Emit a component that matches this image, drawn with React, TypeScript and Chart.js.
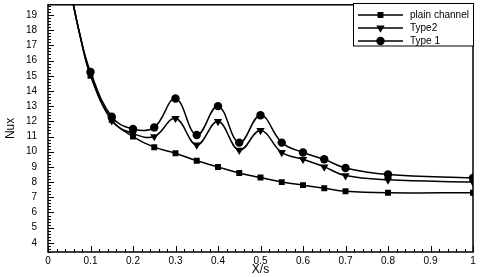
import React, { useEffect, useRef } from 'react';
import { Chart, registerables } from 'chart.js';

Chart.register(...registerables);

const xValues = [0.05, 0.075, 0.1, 0.15, 0.2, 0.25, 0.3, 0.35, 0.4, 0.45, 0.5, 0.55, 0.6, 0.65, 0.7, 0.8, 1.0];
const firstMarked = 2;
const plainChannel = [21.0, 17.7, 15.0, 12.1, 11.0, 10.3, 9.9, 9.4, 9.0, 8.6, 8.3, 8.0, 7.8, 7.6, 7.4, 7.3, 7.3];
const type2 = [21.0, 17.7, 15.1, 12.05, 11.2, 11.0, 12.2, 10.45, 12.0, 10.1, 11.4, 9.95, 9.5, 9.0, 8.43, 8.15, 8.0];
const type1 = [21.0, 17.7, 15.25, 12.3, 11.5, 11.6, 13.5, 11.1, 13.0, 10.6, 12.4, 10.6, 9.95, 9.5, 8.93, 8.5, 8.28];
const seriesNames = ['plain channel', 'Type2', 'Type 1'];
const xTicks = [0, 0.1, 0.2, 0.3, 0.4, 0.5, 0.6, 0.7, 0.8, 0.9, 1];
const yTicks = [4, 5, 6, 7, 8, 9, 10, 11, 12, 13, 14, 15, 16, 17, 18, 19];

const FONT = "'Liberation Sans', Arial, sans-serif";

const pointStyles = ['rect', 'triangle', 'circle'];
const pointRadii = [4.2, 4.8, 4.2];
const pointRotations = [0, 180, 0];

function drawMarker(ctx: CanvasRenderingContext2D, style: string, x: number, y: number, r: number, rot: number) {
  ctx.save();
  ctx.fillStyle = '#000';
  ctx.beginPath();
  if (style === 'rect') {
    const s = r * Math.SQRT1_2;
    ctx.rect(x - s, y - s, 2 * s, 2 * s);
  } else if (style === 'circle') {
    ctx.arc(x, y, r, 0, Math.PI * 2);
  } else {
    const sign = rot === 180 ? 1 : -1;
    const w = r * Math.sin(Math.PI / 3);
    ctx.moveTo(x, y + sign * r);
    ctx.lineTo(x - w, y - sign * r / 2);
    ctx.lineTo(x + w, y - sign * r / 2);
    ctx.closePath();
  }
  ctx.fill();
  ctx.restore();
}

const framePlugin = {
  id: 'frameTicks',
  afterDraw(chart: any) {
    const { ctx, chartArea: a, scales } = chart;
    const xs = scales.x;
    const ys = scales.y;
    ctx.save();
    ctx.strokeStyle = '#000';
    ctx.lineWidth = 1;
    ctx.beginPath();
    for (let i = 0; i <= 50; i++) {
      const v = i * 0.02;
      const px = Math.round(xs.getPixelForValue(v)) + 0.5;
      const len = i % 5 === 0 ? 6 : 3;
      ctx.moveTo(px, a.bottom);
      ctx.lineTo(px, a.bottom - len);
    }
    for (let i = 0; i <= 90; i++) {
      const vr = Math.round((3.4 + i * 0.2) * 10) / 10;
      if (vr < ys.min || vr > ys.max) continue;
      const py = Math.round(ys.getPixelForValue(vr)) + 0.5;
      const major = Math.abs(vr - Math.round(vr)) < 1e-6;
      const len = major ? 6 : 3;
      ctx.moveTo(a.left, py);
      ctx.lineTo(a.left + len, py);
    }
    ctx.stroke();
    ctx.lineWidth = 1.5;
    ctx.strokeRect(a.left, a.top, a.right - a.left, a.bottom - a.top);

    const lx = 353.5, ly = 3.5, lw = 120, lh = 42.5;
    ctx.fillStyle = '#fff';
    ctx.fillRect(lx, ly, lw, lh);
    ctx.lineWidth = 1;
    ctx.strokeStyle = '#000';
    ctx.strokeRect(lx, ly, lw, lh);
    ctx.font = `10px ${FONT}`;
    ctx.textBaseline = 'middle';
    ctx.textAlign = 'left';
    const rows = [15, 28, 41];
    seriesNames.forEach((name, i) => {
      const y = rows[i];
      ctx.beginPath();
      ctx.lineWidth = 1.5;
      ctx.moveTo(358, y);
      ctx.lineTo(403, y);
      ctx.stroke();
      drawMarker(ctx, pointStyles[i], 380.5, y, pointRadii[i], pointRotations[i]);
      ctx.fillStyle = '#000';
      ctx.fillText(name, 410, y + 0.5);
    });
    ctx.restore();
  },
};

export default function App() {
  const canvasRef = useRef<HTMLCanvasElement | null>(null);

  useEffect(() => {
    const canvas = canvasRef.current;
    if (!canvas) return;
    const series = [plainChannel, type2, type1];
    const datasets = series.map((vals, i) => ({
      label: seriesNames[i],
      data: xValues.map((x, j) => ({ x, y: vals[j] })),
      borderColor: '#000',
      backgroundColor: '#000',
      borderWidth: 1.5,
      pointStyle: pointStyles[i] as any,
      pointRadius: xValues.map((_, j) => (j < firstMarked ? 0 : pointRadii[i])),
      pointRotation: pointRotations[i],
      pointBorderWidth: 0,
      pointHoverRadius: 0,
      tension: 0.4,
      fill: false,
    }));

    const chart = new Chart(canvas, {
      type: 'line',
      data: { datasets },
      options: {
        animation: false,
        responsive: true,
        maintainAspectRatio: false,
        events: [],
        layout: { padding: { top: 3, right: 7, left: 0, bottom: 0 } },
        plugins: {
          legend: { display: false },
          tooltip: { enabled: false },
        },
        scales: {
          x: {
            type: 'linear',
            min: 0,
            max: 1,
            afterBuildTicks: (s: any) => {
              s.ticks = xTicks.map((v) => ({ value: v }));
            },
            afterFit: (s: any) => {
              s.height = 25;
              s.paddingLeft = 0;
              s.paddingRight = 0;
            },
            grid: { display: false, drawTicks: false },
            border: { display: false },
            ticks: {
              padding: 3,
              color: '#000',
              font: { family: FONT, size: 10 },
              callback: (v: any) => String(Math.round(Number(v) * 10) / 10),
            },
            title: {
              display: true,
              text: 'X/s',
              color: '#000',
              font: { family: FONT, size: 12 },
              padding: { top: 0, bottom: 0 },
            },
          },
          y: {
            type: 'linear',
            min: 3.4,
            max: 19.67,
            afterBuildTicks: (s: any) => {
              s.ticks = yTicks.map((v) => ({ value: v }));
            },
            afterFit: (s: any) => {
              s.width = 48;
              s.paddingTop = 0;
              s.paddingBottom = 0;
            },
            grid: { display: false, drawTicks: false },
            border: { display: false },
            ticks: {
              padding: 11,
              color: '#000',
              font: { family: FONT, size: 10 },
            },
            title: {
              display: true,
              text: 'Nux',
              color: '#000',
              font: { family: FONT, size: 12 },
              padding: { top: 3, bottom: 0 },
            },
          },
        },
      },
      plugins: [framePlugin],
    });
    return () => chart.destroy();
  }, []);

  return (
    <div style={{ position: 'fixed', left: 0, top: 0, width: 480, height: 277, background: '#fff' }}>
      <canvas ref={canvasRef} />
    </div>
  );
}
